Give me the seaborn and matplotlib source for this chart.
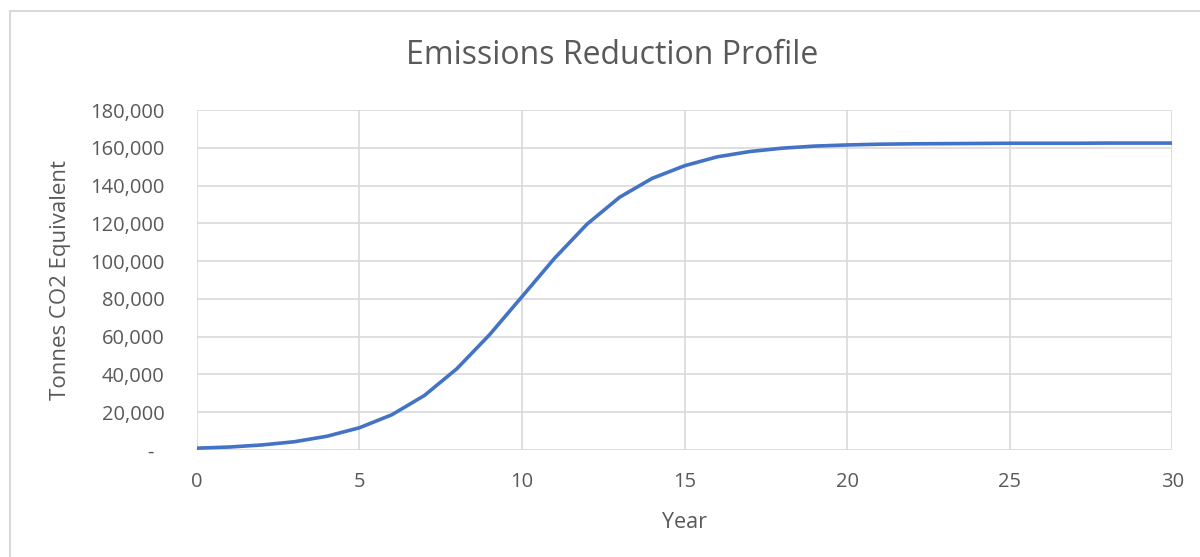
import matplotlib
matplotlib.use("Agg")
import matplotlib.pyplot as plt
import matplotlib.ticker as mticker
from matplotlib.patches import Rectangle
import seaborn as sns
import pandas as pd

# values (tonnes CO2e per year)
years = list(range(0, 31))
reduction = [1000, 1600, 2700, 4400, 7300, 11800, 18700, 28900, 43100, 61000,
             81200, 101500, 119600, 133800, 143800, 150500, 155200, 158000,
             159800, 160900, 161500, 161900, 162100, 162200, 162300, 162400,
             162400, 162400, 162500, 162500, 162500]

title = "Emissions Reduction Profile"
xlabel = "Year"
ylabel = "Tonnes CO2 Equivalent"
yticks = list(range(0, 180001, 20000))
xticks = list(range(0, 31, 5))

df = pd.DataFrame({"Year": years, "Reduction": reduction})

sns.set_theme(style="white")
plt.rcParams["font.family"] = ["Open Sans", "DejaVu Sans"]

text_col = "#595959"
grid_col = "#D9D9D9"

fig = plt.figure(figsize=(12, 5.57), dpi=100)
ax = fig.add_axes([0.164, 0.192, 0.813, 0.6105])

# chart border like the Excel chart area
fig.patches.append(Rectangle((10 / 1200, -0.1), 1.2, 1 - 11 / 557 + 0.1,
                             transform=fig.transFigure, fill=False,
                             edgecolor=grid_col, linewidth=1.5))

sns.lineplot(data=df, x="Year", y="Reduction", ax=ax, color="#4472C4",
             linewidth=2.6, solid_joinstyle="round")

ax.set_xlim(0, 30)
ax.set_ylim(0, 180000)
ax.set_xticks(xticks)
ax.set_yticks(yticks)


def fmt(v, pos):
    if v == 0:
        return "-  "
    return f"{int(v):,}"


ax.yaxis.set_major_formatter(mticker.FuncFormatter(fmt))
ax.grid(True, color=grid_col, linewidth=1.2)
for s in ax.spines.values():
    s.set_visible(False)
ax.tick_params(axis="both", length=0, labelsize=14.5, colors=text_col)
ax.tick_params(axis="x", pad=16)
ax.tick_params(axis="y", pad=23)

ax.set_xlabel(xlabel, fontsize=15.5, color=text_col, labelpad=14)
ax.set_ylabel(ylabel, fontsize=16, color=text_col, labelpad=14)
fig.text(0.5105, 0.9, title, ha="center", va="center", fontsize=23, color=text_col)

fig.savefig("out.png", dpi=100)
